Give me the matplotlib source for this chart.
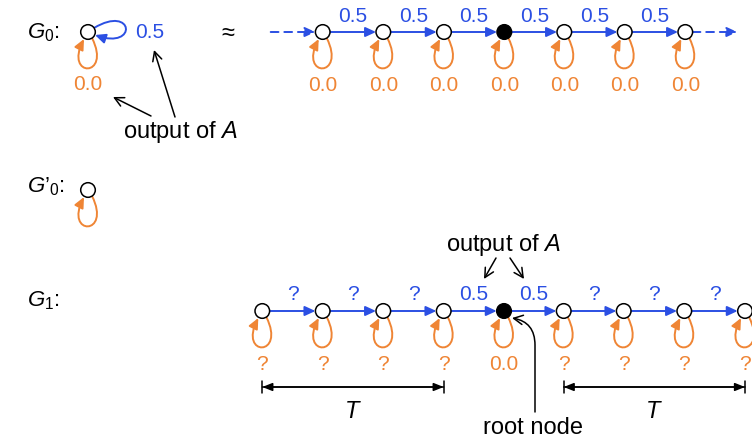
import matplotlib
matplotlib.use("Agg")
import matplotlib.pyplot as plt
from matplotlib.patches import Circle, FancyArrowPatch
from matplotlib.path import Path

plt.rcParams['font.family'] = ['Liberation Sans', 'DejaVu Sans']
plt.rcParams['mathtext.fontset'] = 'custom'
plt.rcParams['mathtext.rm'] = 'Liberation Sans'
plt.rcParams['mathtext.it'] = 'Liberation Sans:italic'

# ---- data ----
top_x = [322.7, 383.3, 444.0, 504.3, 564.3, 624.7, 685.3]
top_root = 3
top_edge_labels = ['0.5', '0.5', '0.5', '0.5', '0.5', '0.5']
top_loop_labels = ['0.0', '0.0', '0.0', '0.0', '0.0', '0.0', '0.0']

g1_x = [262.3, 322.7, 383.3, 443.7, 504.0, 563.7, 623.7, 684.3, 745.0]
g1_root = 4
g1_edge_labels = ['?', '?', '?', '0.5', '0.5', '?', '?', '?']
g1_loop_labels = ['?', '?', '?', '?', '0.0', '?', '?', '?', '?']

BLUE = '#2b4fe3'
ORANGE = '#ef8535'
R = 7.3
NUM = 15
TXT = 17
GLAB = 16

fig = plt.figure(figsize=(7.52, 4.43), dpi=100)
ax = fig.add_axes([0, 0, 1, 1])
ax.set_xlim(0, 752)
ax.set_ylim(443, 0)
ax.axis('off')

HEAD = '-|>,head_length=0.52,head_width=0.24'
THIN = '->,head_length=0.55,head_width=0.28'


def node(x, y, filled=False):
    ax.add_patch(Circle((x, y), R, facecolor='black' if filled else 'white',
                        edgecolor='black', lw=1.1, zorder=5))


def loop_below(x, y):
    p = Path([(x + 4, y + 6), (x + 24, y + 46), (x - 24, y + 46), (x - 4, y + 7)],
             [Path.MOVETO, Path.CURVE4, Path.CURVE4, Path.CURVE4])
    ax.add_patch(FancyArrowPatch(path=p, arrowstyle=HEAD, mutation_scale=12,
                                 color=ORANGE, lw=1.4, zorder=3))


def loop_right(x, y):
    p = Path([(x + 6, y - 4), (x + 46, y - 28), (x + 50, y + 18), (x + 7, y + 3)],
             [Path.MOVETO, Path.CURVE4, Path.CURVE4, Path.CURVE4])
    ax.add_patch(FancyArrowPatch(path=p, arrowstyle=HEAD, mutation_scale=12,
                                 color=BLUE, lw=1.4, zorder=3))


def arrow(x0, y0, x1, y1, color, ls='-', style=HEAD, lw=1.4, ms=12):
    ax.add_patch(FancyArrowPatch((x0, y0), (x1, y1), arrowstyle=style,
                                 mutation_scale=ms, color=color, lw=lw,
                                 linestyle=ls, shrinkA=0, shrinkB=0, zorder=4))


def chain(xs, y, root, edge_labels, loop_labels, dashed_ends):
    for i in range(len(xs) - 1):
        arrow(xs[i] + R, y, xs[i + 1] - R, y, BLUE)
        ax.text((xs[i] + xs[i + 1]) / 2, y - 16, edge_labels[i], color=BLUE,
                fontsize=NUM, ha='center', va='center')
    for i, x in enumerate(xs):
        node(x, y, i == root)
        loop_below(x, y)
        ax.text(x, y + 53, loop_labels[i], color=ORANGE, fontsize=NUM,
                ha='center', va='center')
    if dashed_ends:
        arrow(xs[0] - 52, y, xs[0] - R, y, BLUE, ls=(0, (4, 3)))
        arrow(xs[-1] + R, y, xs[-1] + 52, y, BLUE, ls=(0, (4, 3)))


# G0
ax.text(27, 33, r'$G_0$:', fontsize=GLAB, ha='left', va='center')
node(88, 32)
loop_right(88, 32)
loop_below(88, 32)
ax.text(150, 32, '0.5', color=BLUE, fontsize=NUM, ha='center', va='center')
ax.text(88, 84, '0.0', color=ORANGE, fontsize=NUM, ha='center', va='center')
ax.text(228, 34, '≈', fontsize=17, ha='center', va='center')
ax.text(180, 132, 'output of $A$', fontsize=TXT, ha='center', va='center')
arrow(151, 116, 113, 97, 'black', style=THIN, lw=1.1)
arrow(175, 117, 154, 50, 'black', style=THIN, lw=1.1)

chain(top_x, 32, top_root, top_edge_labels, top_loop_labels, True)

# G'0
ax.text(27, 187, r'$G$’$_0$:', fontsize=GLAB, ha='left', va='center')
node(88, 190)
loop_below(88, 190)

# G1
ax.text(27, 301, r'$G_1$:', fontsize=GLAB, ha='left', va='center')
chain(g1_x, 311, g1_root, g1_edge_labels, g1_loop_labels, False)

ax.text(503, 245, 'output of $A$', fontsize=TXT, ha='center', va='center')
arrow(496, 258, 484, 279, 'black', style=THIN, lw=1.1)
arrow(510, 258, 524, 279, 'black', style=THIN, lw=1.1)

# root node pointer
p = Path([(535, 412), (535, 345), (535, 322), (512, 318)],
         [Path.MOVETO, Path.LINETO, Path.CURVE3, Path.CURVE3])
ax.add_patch(FancyArrowPatch(path=p, arrowstyle=THIN,
                             mutation_scale=12, color='black', lw=1.1, zorder=4))
ax.text(533, 428, 'root node', fontsize=TXT, ha='center', va='center')

# T brackets
for a, b in [(g1_x[0], g1_x[3]), (g1_x[5], g1_x[8])]:
    arrow(a, 387, b, 387, 'black', style='|-|,widthA=0.35,widthB=0.35', lw=1.1)
    arrow(a, 387, b, 387, 'black', style='<|-|>,head_length=0.5,head_width=0.2', lw=1.1)
    ax.text((a + b) / 2, 412, '$T$', fontsize=TXT, ha='center', va='center')

fig.savefig('out.png', dpi=100)
